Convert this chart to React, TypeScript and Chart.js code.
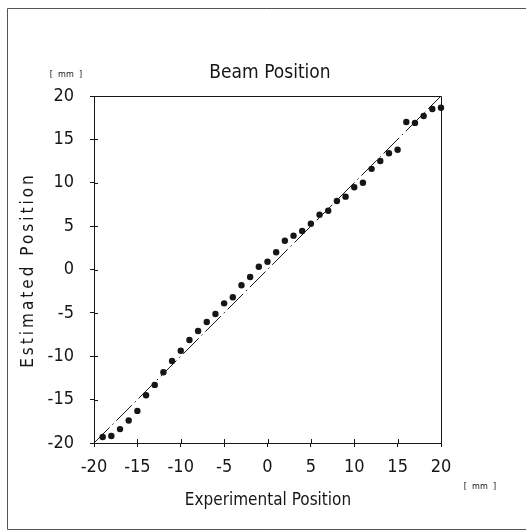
import React, { useEffect, useRef } from "react";
import { Chart, registerables } from "chart.js";

Chart.register(...registerables);

const experimentalX: number[] = [
  -19, -18, -17, -16, -15, -14, -13, -12, -11, -10, -9, -8, -7, -6, -5, -4, -3, -2, -1, 0,
  1, 2, 3, 4, 5, 6, 7, 8, 9, 10, 11, 12, 13, 14, 15, 16, 17, 18, 19, 20,
];
const estimatedY: number[] = [
  -19.3, -19.2, -18.4, -17.4, -16.3, -14.5, -13.3, -11.85, -10.55, -9.36, -8.13, -7.09, -6.05,
  -5.13, -3.9, -3.2, -1.82, -0.86, 0.32, 0.9, 1.98, 3.32, 3.9, 4.44, 5.28, 6.32, 6.78, 7.9, 8.4,
  9.48, 10.0, 11.6, 12.5, 13.4, 13.8, 17.0, 16.9, 17.7, 18.5, 18.65,
];
const idealLineX: number[] = [-20, 20];
const idealLineY: number[] = [-20, 20];
const tickValues: number[] = [-20, -15, -10, -5, 0, 5, 10, 15, 20];

const FONT = "'DejaVu Sans Condensed', 'Liberation Sans Narrow', sans-serif";
const INK = "#161616";

const decorPlugin = {
  id: "decor",
  afterDraw(chart: any) {
    const ctx = chart.ctx as CanvasRenderingContext2D;
    const { left, right, top, bottom } = chart.chartArea;
    const xs = chart.scales.x;
    const ys = chart.scales.y;
    ctx.save();
    ctx.strokeStyle = INK;
    ctx.lineWidth = 1;
    // box top & right
    ctx.beginPath();
    ctx.moveTo(left, top + 0.5);
    ctx.lineTo(right + 0.5, top + 0.5);
    ctx.lineTo(right + 0.5, bottom);
    ctx.stroke();
    // inward ticks
    ctx.beginPath();
    for (const v of tickValues) {
      const px = Math.round(xs.getPixelForValue(v)) + 0.5;
      ctx.moveTo(px, bottom);
      ctx.lineTo(px, bottom - 4);
      const py = Math.round(ys.getPixelForValue(v)) + 0.5;
      ctx.moveTo(left, py);
      ctx.lineTo(left + 4, py);
    }
    ctx.stroke();
    // outer frame
    ctx.strokeStyle = "#555";
    ctx.beginPath();
    ctx.moveTo(526, 8.5);
    ctx.lineTo(7.5, 8.5);
    ctx.lineTo(7.5, 529.5);
    ctx.lineTo(526, 529.5);
    ctx.stroke();
    // texts
    ctx.fillStyle = INK;
    ctx.textAlign = "center";
    ctx.textBaseline = "middle";
    ctx.font = `19px ${FONT}`;
    ctx.fillText("Beam Position", 270, 73);
    ctx.font = `17px ${FONT}`;
    ctx.fillText("Experimental Position", 268, 501);
    ctx.save();
    ctx.translate(29, 270);
    ctx.rotate(-Math.PI / 2);
    (ctx as any).letterSpacing = "3px";
    ctx.fillText("Estimated Position", 0, 0);
    ctx.restore();
    (ctx as any).letterSpacing = "0px";
    ctx.font = `9px ${FONT}`;
    ctx.fillText("[  mm  ]", 66, 75);
    ctx.fillText("[  mm  ]", 480, 487);
    ctx.restore();
  },
};

export default function App() {
  const ref = useRef<HTMLCanvasElement | null>(null);
  useEffect(() => {
    document.body.style.margin = "0";
    if (!ref.current) return;
    const points = experimentalX.map((x, i) => ({ x, y: estimatedY[i] }));
    const line = idealLineX.map((x, i) => ({ x, y: idealLineY[i] }));
    const tickFont = { family: FONT, size: 18 };
    const chart = new Chart(ref.current, {
      type: "scatter",
      data: {
        datasets: [
          {
            type: "line",
            data: line,
            borderColor: INK,
            borderWidth: 1,
            borderDash: [22, 4, 1.5, 4],
            pointRadius: 0,
            fill: false,
          } as any,
          {
            data: points,
            backgroundColor: INK,
            borderColor: INK,
            pointRadius: 3.2,
            borderWidth: 0,
            clip: false,
          } as any,
        ],
      },
      options: {
        responsive: false,
        animation: false,
        layout: { padding: { left: 0, top: 96, right: 85, bottom: 0 } },
        plugins: { legend: { display: false }, tooltip: { enabled: false }, title: { display: false } },
        scales: {
          x: {
            type: "linear",
            min: -20,
            max: 20,
            afterFit: (s: any) => {
              s.height = 88;
            },
            afterBuildTicks: (s: any) => {
              s.ticks = tickValues.map((v) => ({ value: v }));
            },
            ticks: { font: tickFont, color: INK, padding: 10, maxRotation: 0 },
            grid: { drawOnChartArea: false, drawTicks: true, tickLength: 4, color: INK },
            border: { display: true, color: INK, width: 1 },
          },
          y: {
            type: "linear",
            min: -20,
            max: 20,
            afterFit: (s: any) => {
              s.width = 94;
            },
            afterBuildTicks: (s: any) => {
              s.ticks = tickValues.map((v) => ({ value: v }));
            },
            ticks: { font: tickFont, color: INK, padding: 16 },
            grid: { drawOnChartArea: false, drawTicks: true, tickLength: 4, color: INK },
            border: { display: true, color: INK, width: 1 },
          },
        },
      },
      plugins: [decorPlugin],
    } as any);
    return () => chart.destroy();
  }, []);
  return <canvas ref={ref} width={526} height={531} style={{ display: "block" }} />;
}
